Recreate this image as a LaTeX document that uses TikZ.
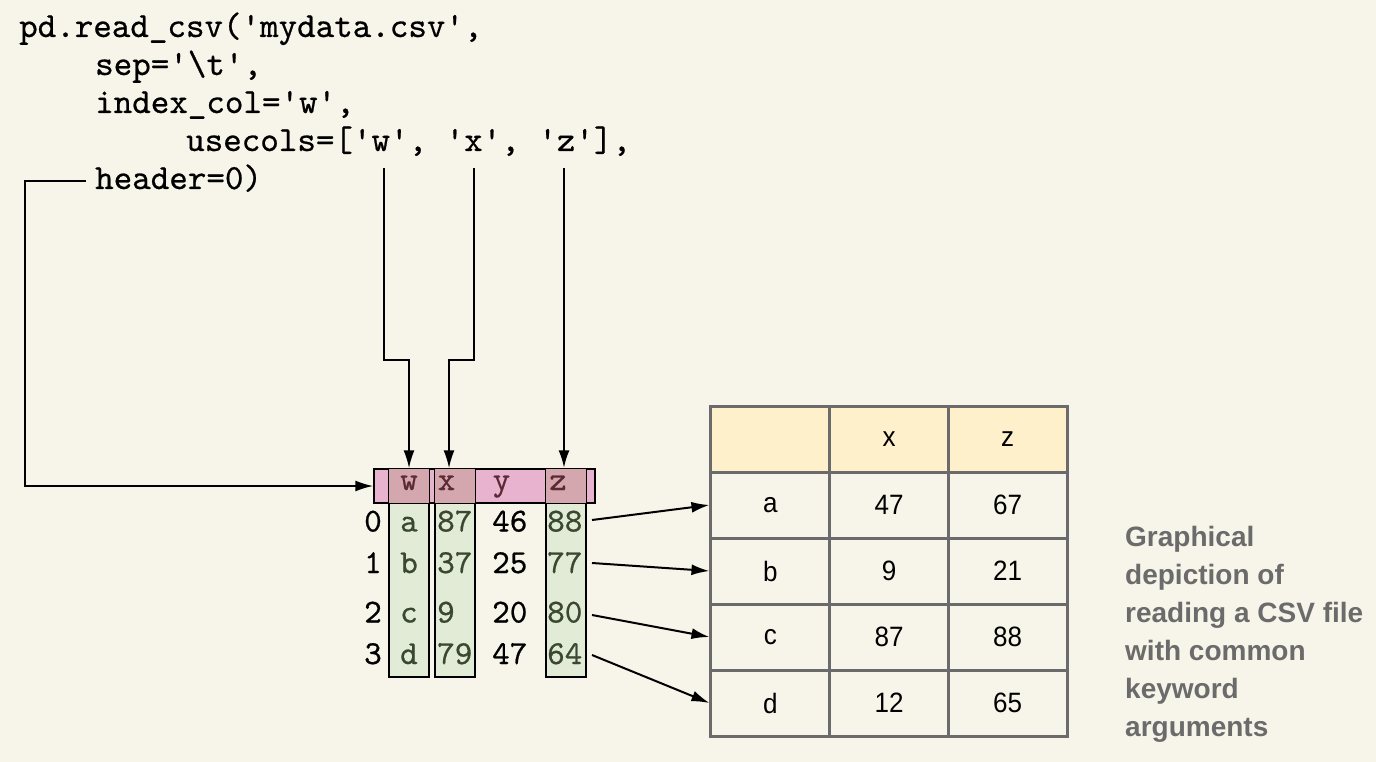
\documentclass[tikz,border=0pt]{standalone}
\usepackage{fontspec}
\usetikzlibrary{arrows.meta}
\newfontfamily\tabfont[FakeStretch=0.93]{Liberation Sans}
\newfontfamily\capfont{Liberation Sans}
\newfontfamily\codefont[FakeBold=0.6]{lmmono10-regular.otf}
\newcommand\codefnt{\codefont\fontsize{35.3}{40}\selectfont}
\newcommand\datafnt{\codefont\fontsize{33.5}{40}\selectfont}
\newcommand\tabfnt{\tabfont\fontsize{28}{32}\selectfont}
\newcommand\capfnt{\capfont\bfseries\fontsize{28}{38}\selectfont}
\definecolor{bgc}{HTML}{F7F4E9}
\definecolor{pinkc}{HTML}{E8B3CF}
\definecolor{overc}{HTML}{D4A7AF}
\definecolor{greenc}{HTML}{E1EBD6}
\definecolor{hdrtxt}{HTML}{5C2A35}
\definecolor{grntxt}{HTML}{3A4830}
\definecolor{tabgray}{HTML}{6B6B6B}
\definecolor{yelc}{HTML}{FDF0CB}
\definecolor{capc}{HTML}{6B6B6B}
\begin{document}
\begin{tikzpicture}[x=1pt,y=-1pt,
  code/.style={anchor=base west,inner sep=0pt,font=\codefnt,text=black},
  conn/.style={line width=2pt,-{Latex[length=18pt,width=11pt]}},
  colbox/.style={draw=black,line width=1.3pt,fill=greenc,minimum width=40pt,minimum height=208pt,inner sep=0pt},
  hdrbox/.style={draw=black,line width=1.3pt,fill=pinkc,minimum width=221pt,minimum height=34pt,inner sep=0pt},
  hl/.style={anchor=base,inner sep=0pt,font=\datafnt,text=hdrtxt},
  gdat/.style={anchor=base west,inner sep=0pt,font=\datafnt,text=grntxt},
  gdatc/.style={anchor=base,inner sep=0pt,font=\datafnt,text=grntxt},
  bdat/.style={anchor=base west,inner sep=0pt,font=\datafnt,text=black},
  idx/.style={anchor=base,inner sep=0pt,font=\datafnt,text=black},
  cell/.style={draw=tabgray,line width=3pt,fill=bgc,minimum width=118.67pt,minimum height=66pt,inner sep=0pt,font=\tabfnt,text=black},
  hcell/.style={cell,fill=yelc},
  capstyle/.style={anchor=north west,inner sep=0pt,align=left,font=\capfnt,text=capc}]
\useasboundingbox (0,0) rectangle (1376,762);
\fill[bgc] (0,0) rectangle (1376,762);

% code
\node[code] (l1) at (19,37) {pd.read\_csv(\textquotesingle mydata.csv\textquotesingle,};
\node[code] (l2) at (95,75) {sep=\textquotesingle\textbackslash t\textquotesingle,};
\node[code] (l3) at (95,113) {index\_col=\textquotesingle w\textquotesingle,};
\node[code] (l4) at (186,151) {usecols=[\textquotesingle w\textquotesingle, \textquotesingle x\textquotesingle, \textquotesingle z\textquotesingle],};
\node[code] (l5) at (95,189) {header=0)};
\coordinate (wq) at (384,168);
\coordinate (xq) at (474,168);
\coordinate (zq) at (564,168);
\coordinate (hq) at (86,181);

% source table
\node[colbox] (colw) at (409,573) {};
\node[colbox] (colx) at (455,573) {};
\node[colbox] (colz) at (566,573) {};
\node[hdrbox] (hdr) at (484.5,486) {};
\fill[overc] (colw.north west) rectangle (colw.east |- hdr.south);
\fill[overc] (colx.north west) rectangle (colx.east |- hdr.south);
\fill[overc] (colz.north west) rectangle (colz.east |- hdr.south);
\draw[line width=1.3pt] (colw.north west) rectangle (colw.south east);
\draw[line width=1.3pt] (colx.north west) rectangle (colx.south east);
\draw[line width=1.3pt] (colz.north west) rectangle (colz.south east);
\draw[line width=1.3pt] (hdr.north west) rectangle (hdr.south east);

\node[hl] (hw) at (409,490) {w};
\node[hl] (hx) at (446.5,490) {x};
\node[hl] (hy) at (501.5,490) {y};
\node[hl] (hz) at (558,490) {z};

\node[idx] (i0) at (373,531.5) {0};
\node[idx] (i1) at (373,573) {1};
\node[idx] (i2) at (373,622.5) {2};
\node[idx] (i3) at (373,664) {3};

\node[gdatc] (w0) at (409,531.5) {a};
\node[gdatc] (w1) at (409,573) {b};
\node[gdatc] (w2) at (409,622.5) {c};
\node[gdatc] (w3) at (409,664) {d};

\node[gdat] (x0) at (437,531.5) {87};
\node[gdat] (x1) at (437,573) {37};
\node[gdat] (x2) at (437,622.5) {9};
\node[gdat] (x3) at (437,664) {79};

\node[bdat] (y0) at (492,531.5) {46};
\node[bdat] (y1) at (492,573) {25};
\node[bdat] (y2) at (492,622.5) {20};
\node[bdat] (y3) at (492,664) {47};

\node[gdat] (z0) at (547,531.5) {88};
\node[gdat] (z1) at (547,573) {77};
\node[gdat] (z2) at (547,622.5) {80};
\node[gdat] (z3) at (547,664) {64};

% connectors from code
\draw[conn] (wq) -- ++(0,192) -| (colw.north);
\draw[conn] (xq) -- ++(0,192) -| ([xshift=-6pt]colx.north);
\draw[conn,line width=2.6pt] (zq) -- (zq |- hdr.north);
\draw[conn] (hq) -- (25,181) |- (hdr.west);

% result table
\node[hcell] (c00) at (770.3,439) {};
\node[hcell] (c01) at (889,439) {x};
\node[hcell] (c02) at (1007.7,439) {z};
\node[cell] (ra) at (770.3,505) {a};
\node[cell] (ra1) at (889,505) {47};
\node[cell] (ra2) at (1007.7,505) {67};
\node[cell] (rb) at (770.3,571) {b};
\node[cell] (rb1) at (889,571) {9};
\node[cell] (rb2) at (1007.7,571) {21};
\node[cell] (rc) at (770.3,637) {c};
\node[cell] (rc1) at (889,637) {87};
\node[cell] (rc2) at (1007.7,637) {88};
\node[cell] (rd) at (770.3,703) {d};
\node[cell] (rd1) at (889,703) {12};
\node[cell] (rd2) at (1007.7,703) {65};

% row connectors
\coordinate (s0) at (592,520);
\coordinate (s1) at (592,563);
\coordinate (s2) at (592,615);
\coordinate (s3) at (592,655);
\draw[conn] (s0) -- (ra.west);
\draw[conn] (s1) -- (rb.west);
\draw[conn] (s2) -- (rc.west);
\draw[conn] (s3) -- (rd.west);

% caption
\node[capstyle] (cap) at (1125,526) {Graphical\\depiction of\\reading a CSV file\\with common\\keyword\\arguments};
\end{tikzpicture}
\end{document}
